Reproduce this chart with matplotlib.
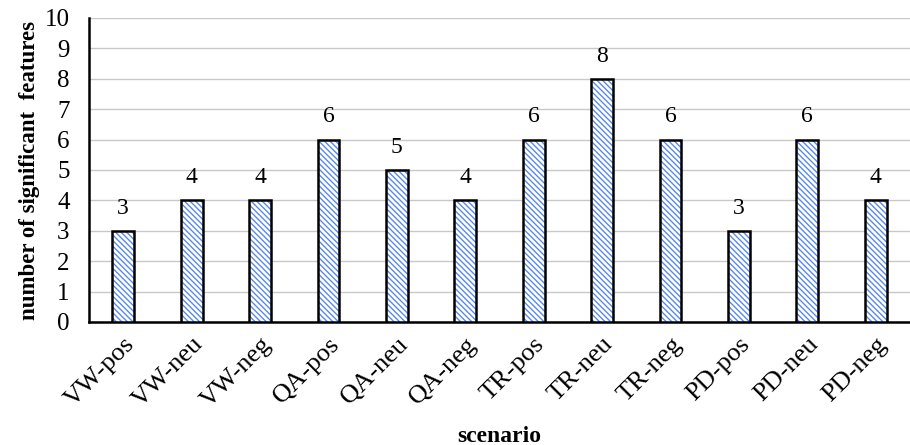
import matplotlib.pyplot as plt
import numpy as np

plt.rcParams['font.family'] = ['Liberation Serif', 'DejaVu Serif']
plt.rcParams['hatch.linewidth'] = 1.0

scenarios = ['VW-pos', 'VW-neu', 'VW-neg', 'QA-pos', 'QA-neu', 'QA-neg',
             'TR-pos', 'TR-neu', 'TR-neg', 'PD-pos', 'PD-neu', 'PD-neg']
n_features = [3, 4, 4, 6, 5, 4, 6, 8, 6, 3, 6, 4]

fig = plt.figure(figsize=(9.1, 4.45), dpi=100)
ax = fig.add_axes([89 / 910, 1 - 322 / 445, 821 / 910, 304 / 445])

x = np.arange(len(scenarios))
# hatch in blue, outline drawn separately in black
ax.bar(x, n_features, width=0.32, color='white', edgecolor='#5a8ae6',
       linewidth=0, hatch='\\\\\\\\\\\\', zorder=3)
ax.bar(x, n_features, width=0.32, fill=False, edgecolor='black',
       linewidth=1.8, zorder=4)

for xi, v in zip(x, n_features):
    ax.text(xi, v + 0.4, str(v), ha='center', va='bottom', fontsize=17)

ax.set_xlim(-0.5, len(scenarios) - 0.5)
ax.set_ylim(0, 10)
ax.set_yticks(range(0, 11))
ax.yaxis.grid(True, color='#c8c8c8', linewidth=1.0, zorder=0)
ax.set_axisbelow(True)

ax.set_xticks(x)
ax.set_xticklabels(scenarios, rotation=45, ha='right', rotation_mode='anchor',
                   fontsize=19)
ax.tick_params(axis='y', labelsize=18, length=0, pad=14)
ax.tick_params(axis='x', length=0, pad=8)

for side in ['top', 'right']:
    ax.spines[side].set_visible(False)
ax.spines['left'].set_linewidth(1.8)
ax.spines['bottom'].set_linewidth(1.8)

ax.set_ylabel('number of significant  features', fontsize=16.5, fontweight='bold',
              labelpad=3)
ax.set_xlabel('scenario', fontsize=17, fontweight='bold', labelpad=10)

fig.savefig('out.png', dpi=100)
